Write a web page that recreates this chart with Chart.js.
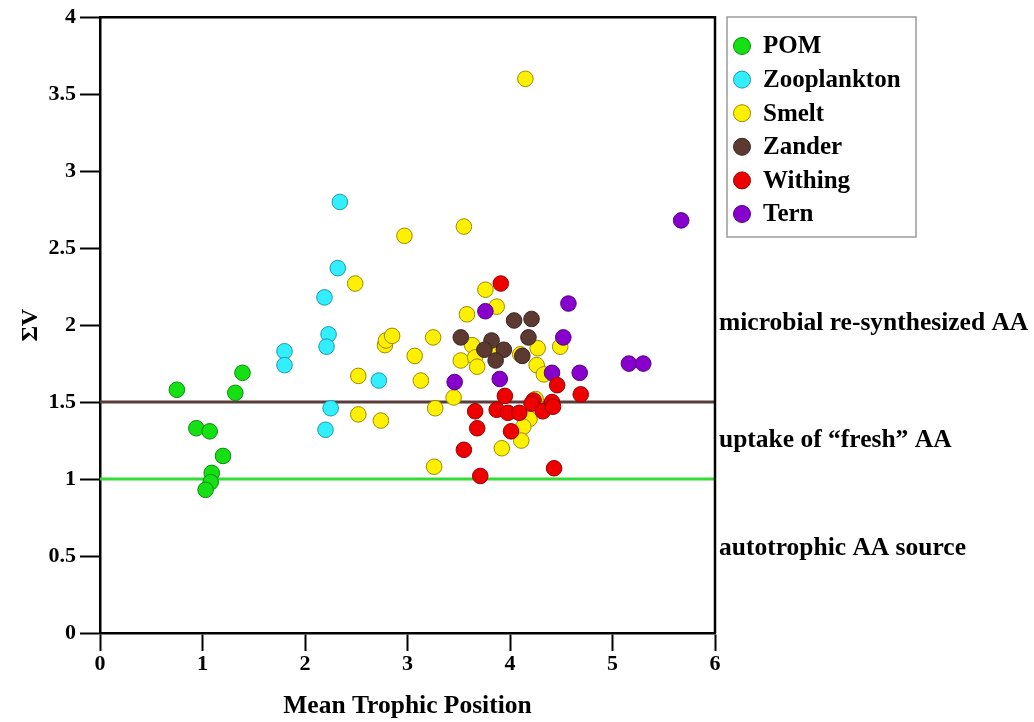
<!DOCTYPE html>
<html>
<head>
<meta charset="utf-8">
<script src="https://cdn.jsdelivr.net/npm/chart.js@4.4.1/dist/chart.umd.min.js"></script>
<style>
  html, body { margin: 0; padding: 0; background: #fff; }
  canvas { display: block; }
</style>
</head>
<body>
<canvas id="chart" width="1034" height="722"></canvas>
<script>
// series values (Mean Trophic Position, ΣV)
const pomX = [0.75, 1.39, 1.32, 0.94, 1.07, 1.20, 1.09, 1.08, 1.03];
const pomY = [1.58, 1.69, 1.56, 1.33, 1.31, 1.15, 1.04, 0.98, 0.93];

const zooX = [2.34, 2.32, 2.19, 2.23, 2.21, 1.80, 1.80, 2.72, 2.25, 2.20];
const zooY = [2.80, 2.37, 2.18, 1.94, 1.86, 1.83, 1.74, 1.64, 1.46, 1.32];

const smeltX = [4.15, 3.55, 2.97, 2.49, 2.78, 2.79, 2.85, 2.52, 2.52, 2.74, 3.25, 3.07, 3.13, 3.27, 3.26,
                3.58, 3.76, 3.87, 3.52, 3.63, 3.66, 3.68, 3.45, 3.84, 4.27, 4.26, 4.33, 4.49, 4.10,
                4.25, 4.19, 4.13, 4.11, 3.92];
const smeltY = [3.60, 2.64, 2.58, 2.27, 1.87, 1.90, 1.93, 1.67, 1.42, 1.38, 1.92, 1.80, 1.64, 1.46, 1.08,
                2.07, 2.23, 2.12, 1.77, 1.87, 1.79, 1.73, 1.53, 1.84, 1.85, 1.74, 1.68, 1.86, 1.81,
                1.52, 1.39, 1.34, 1.25, 1.20];

const zanderX = [3.52, 4.04, 4.21, 4.18, 3.82, 3.75, 3.94, 3.86, 4.12];
const zanderY = [1.92, 2.03, 2.04, 1.92, 1.90, 1.84, 1.84, 1.77, 1.80];

const withingX = [3.91, 4.46, 4.69, 3.95, 3.66, 3.87, 3.98, 4.09, 4.23, 4.21, 4.32, 4.41, 4.42, 4.01, 3.68, 3.55, 3.71, 4.43];
const withingY = [2.27, 1.61, 1.55, 1.54, 1.44, 1.45, 1.43, 1.43, 1.51, 1.49, 1.44, 1.50, 1.47, 1.31, 1.33, 1.19, 1.02, 1.07];

const ternX = [3.76, 4.57, 4.52, 4.41, 4.68, 3.46, 3.90, 5.16, 5.30, 5.67];
const ternY = [2.09, 2.14, 1.92, 1.69, 1.69, 1.63, 1.65, 1.75, 1.75, 2.68];

// categories
const groups = ["POM", "Zooplankton", "Smelt", "Zander", "Withing", "Tern"];
const groupX = [pomX, zooX, smeltX, zanderX, withingX, ternX];
const groupY = [pomY, zooY, smeltY, zanderY, withingY, ternY];
const fillColors = ["#14e014", "#33eeff", "#fff000", "#5c3a32", "#ee0000", "#8800cc"];
const edgeColors = ["#0b8a0b", "#1a9aa8", "#9a8a00", "#3a2420", "#990000", "#550080"];
const drawOrder = [6, 5, 4, 3, 1, 2]; // Withing on top, POM at the bottom

// threshold lines
const guideLevels = [1.5, 1.0];
const guideColors = ["#5a3c3c", "#33dd33"];

// zone notes on the right
const zoneTexts = ["microbial re-synthesized AA", "uptake of \u201cfresh\u201d AA", "autotrophic AA source"];
const zoneLevels = [2.01, 1.25, 0.55];

// tick labels
const xTicks = [0, 1, 2, 3, 4, 5, 6];
const yTicks = [0, 0.5, 1, 1.5, 2, 2.5, 3, 3.5, 4];

const serif = "'Liberation Serif', 'Times New Roman', serif";

const datasets = groups.map((name, i) => ({
    label: name,
    type: "scatter",
    data: groupX[i].map((x, k) => ({ x: x, y: groupY[i][k] })),
    backgroundColor: fillColors[i],
    borderColor: edgeColors[i],
    borderWidth: 1,
    pointRadius: 7.8,
    pointHoverRadius: 7.8,
    order: drawOrder[i],
}));

guideLevels.forEach((level, i) => {
    datasets.push({
        label: "guide" + i,
        type: "line",
        data: [{ x: xTicks[0], y: level }, { x: xTicks[xTicks.length - 1], y: level }],
        borderColor: guideColors[i],
        borderWidth: 3,
        pointRadius: 0,
        fill: false,
        order: 10,
    });
});

// frame, legend box and zone notes
const extras = {
    id: "extras",
    afterDraw(chart) {
        const ctx = chart.ctx;
        const area = chart.chartArea;
        const yScale = chart.scales.y;
        ctx.save();

        // top and right border of the frame
        ctx.strokeStyle = "#000";
        ctx.lineWidth = 2.5;
        ctx.beginPath();
        ctx.moveTo(area.left, area.top);
        ctx.lineTo(area.right, area.top);
        ctx.lineTo(area.right, area.bottom);
        ctx.stroke();

        // legend
        ctx.strokeStyle = "#9a9a9a";
        ctx.lineWidth = 1.5;
        ctx.strokeRect(727, 17, 189, 220);
        ctx.font = "bold 25px " + serif;
        ctx.textBaseline = "middle";
        ctx.textAlign = "left";
        groups.forEach((name, i) => {
            const cy = 46 + i * 33.6;
            ctx.beginPath();
            ctx.arc(742, cy, 8.5, 0, Math.PI * 2);
            ctx.fillStyle = fillColors[i];
            ctx.fill();
            ctx.lineWidth = 1;
            ctx.strokeStyle = edgeColors[i];
            ctx.stroke();
            ctx.fillStyle = "#000";
            ctx.fillText(name, 763, cy + 1);
        });

        // zone notes
        ctx.font = "bold 25.5px " + serif;
        zoneTexts.forEach((t, i) => {
            ctx.fillText(t, 719, yScale.getPixelForValue(zoneLevels[i]));
        });
        ctx.restore();
    },
};

const tickFont = { family: serif, size: 22, weight: "bold" };

new Chart(document.getElementById("chart"), {
    type: "scatter",
    data: { datasets: datasets },
    options: {
        responsive: false,
        animation: false,
        layout: { padding: { top: 17, right: 319, left: 0, bottom: 0 } },
        plugins: { legend: { display: false }, tooltip: { enabled: false } },
        scales: {
            x: {
                type: "linear",
                min: xTicks[0],
                max: xTicks[xTicks.length - 1],
                afterBuildTicks: (s) => { s.ticks = xTicks.map((v) => ({ value: v })); },
                afterFit: (s) => { s.height = 89; },
                ticks: { color: "#000", font: tickFont, padding: 0, callback: (v) => String(v) },
                grid: { drawOnChartArea: false, tickLength: 18, tickWidth: 2, tickColor: "#000" },
                border: { color: "#000", width: 2.5 },
                title: {
                    display: true,
                    text: "Mean Trophic Position",
                    color: "#000",
                    font: { family: serif, size: 25.5, weight: "bold" },
                    padding: { top: 0, bottom: 0 },
                },
            },
            y: {
                type: "linear",
                min: yTicks[0],
                max: yTicks[yTicks.length - 1],
                afterBuildTicks: (s) => { s.ticks = yTicks.map((v) => ({ value: v })); },
                afterFit: (s) => { s.width = 100; },
                ticks: { color: "#000", font: tickFont, padding: 4, callback: (v) => String(v) },
                grid: { drawOnChartArea: false, tickLength: 20, tickWidth: 2, tickColor: "#000" },
                border: { color: "#000", width: 2.5 },
                title: {
                    display: true,
                    text: "\u03a3V",
                    color: "#000",
                    font: { family: serif, size: 24, weight: "bold" },
                    padding: { top: 16, bottom: 0 },
                },
            },
        },
    },
    plugins: [extras],
});
</script>
</body>
</html>
